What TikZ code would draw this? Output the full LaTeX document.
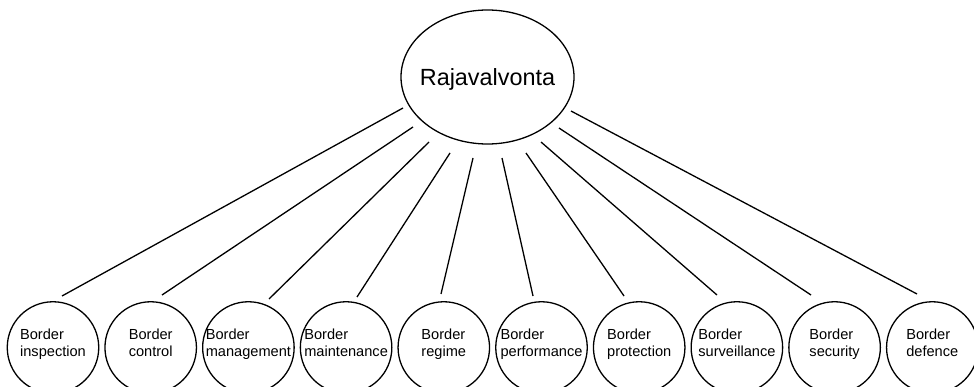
\documentclass[tikz,border=0pt]{standalone}
\usepackage{fontspec}
\setmainfont{Liberation Sans}
\usetikzlibrary{shapes.geometric}
\begin{document}
\begin{tikzpicture}[x=1pt,y=1pt,
  line width=1.3pt,
  rootbox/.style={draw, ellipse, minimum width=173pt, minimum height=134pt, inner sep=0pt},
  leafbox/.style={draw, circle, minimum size=91.5pt, inner sep=0pt},
  leaftext/.style={anchor=north, align=left, inner sep=0pt, font=\fontsize{14.6}{16.8}\selectfont},
  link/.style={draw, line width=1.3pt}]
\useasboundingbox (0,0) rectangle (974,386);

% central term
\node[rootbox] (root) at (487.5,309) {};
\node[anchor=base, inner sep=0pt, font=\fontsize{23.4}{28}\selectfont] (rootlabel) at (487.5,300) {Rajavalvonta};

% the ten translations
\foreach \i/\word in {0/inspection,1/control,2/management,3/maintenance,4/regime,
                      5/performance,6/protection,7/surveillance,8/security,9/defence}{
  \pgfmathsetmacro{\cx}{53+97.7*\i}
  \node[leafbox] (b\i) at (\cx,38.5) {};
  \node[leaftext] (t\i) at (\cx,57.5) {Border\\\word};
}

% connector end points
\coordinate (s0) at (403,278); \coordinate (e0) at (62,90);
\coordinate (s1) at (413,259); \coordinate (e1) at (162,91);
\coordinate (s2) at (429,244); \coordinate (e2) at (269,87);
\coordinate (s3) at (450,233); \coordinate (e3) at (357,89);
\coordinate (s4) at (473,228); \coordinate (e4) at (441,92);
\coordinate (s5) at (502,228); \coordinate (e5) at (533,90);
\coordinate (s6) at (526,233); \coordinate (e6) at (624,90);
\coordinate (s7) at (541,244); \coordinate (e7) at (717,91);
\coordinate (s8) at (559,258); \coordinate (e8) at (811,91);
\coordinate (s9) at (571,275); \coordinate (e9) at (917,92);

\foreach \i in {0,...,9}{
  \path[link] (s\i) -- (e\i);
}
\end{tikzpicture}
\end{document}
